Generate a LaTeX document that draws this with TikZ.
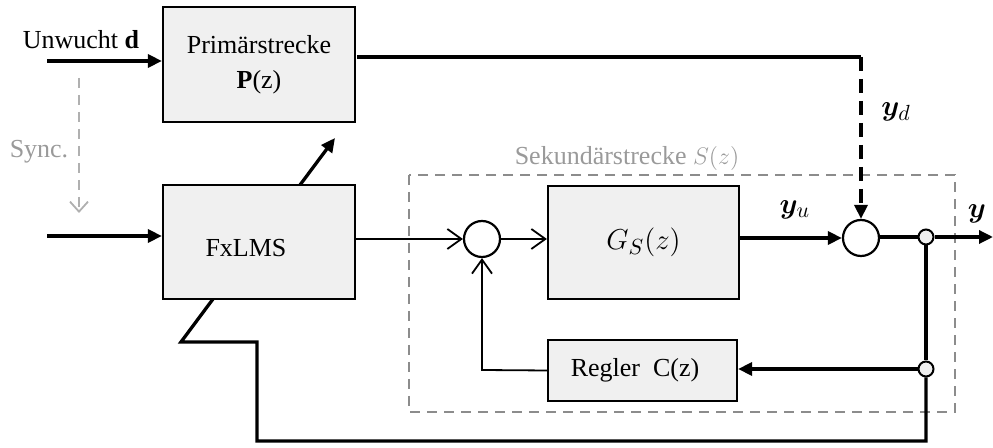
\documentclass[tikz,border=0pt]{standalone}
\usepackage{fontspec}
\usepackage{bm}
\setmainfont{Liberation Serif}
\usetikzlibrary{arrows.meta,positioning}
\definecolor{boxfill}{HTML}{F0F0F0}
\definecolor{grayline}{HTML}{8C8C8C}
\definecolor{graytext}{HTML}{9A9A9A}
\definecolor{synccol}{HTML}{B0B0B0}
\begin{document}
\begin{tikzpicture}[x=0.5pt,y=-0.5pt,
  font=\fontsize{13}{15.6}\selectfont,
  mathlbl/.style={font=\fontsize{15}{18}\selectfont},
  blockbox/.style={draw,line width=1.1pt,fill=boxfill,inner sep=0pt,align=center},
  sumnode/.style={draw,circle,line width=1.1pt,fill=white,minimum size=18pt,inner sep=0pt},
  junct/.style={draw,circle,line width=1pt,fill=boxfill,minimum size=7.5pt,inner sep=0pt},
  thickln/.style={line width=1.65pt},
  thinln/.style={line width=0.9pt},
  fatarrow/.style={thickln,-{Triangle[length=7pt,width=6.5pt]}},
  openarrow/.style={thinln,-{Straight Barb[length=7pt,width=10pt,line width=0.9pt]}}
]
\useasboundingbox (0,0) rectangle (993,448);

% secondary dashed frame
\draw[grayline,line width=0.9pt,dash pattern=on 5pt off 3.5pt] (409,175) rectangle (955,412);
\node[text=graytext] (seklabel) at (627,158) {Sekundärstrecke $S(z)$};

% blocks
\node[blockbox,minimum width=96pt,minimum height=57.5pt] (prim) at (259,64.5) {Primärstrecke\\[2pt]$\mathbf{P}$(z)};
\node[blockbox,minimum width=96pt,minimum height=57pt] (fx) at (259,242) {};
\node (fxtext) at (246,248) {FxLMS};
\node[blockbox,minimum width=95.5pt,minimum height=56.5pt,mathlbl] (gs) at (643.5,242.5) {$G_S(z)$};
\node[blockbox,minimum width=94.5pt,minimum height=30.5pt] (reg) at (642.5,370.5) {};
\node (regtext) at (635,370) {Regler~~C(z)};

\node[sumnode] (s1) at (482,239) {};
\node[sumnode] (s2) at (861,238) {};
\node[junct] (j1) at (926,237) {};
\node[junct] (j2) at (926,369) {};

% coordinates
\coordinate (in1) at (47,61);
\coordinate (in2) at (47,236);
\coordinate (sy1) at (79,78);
\coordinate (sy2) at (79,213);
\coordinate (dg1) at (300,185);
\coordinate (dg2) at (335,138);
\coordinate (pk) at (861,57);
\coordinate (po) at (357,57);
\coordinate (out) at (993,237);
\coordinate (b1) at (926,441);
\coordinate (b2) at (257,441);
\coordinate (b3) at (257,342);
\coordinate (b4) at (181,342);
\coordinate (b5) at (213,299);
\coordinate (rk) at (482,370);

% labels
\node (unw) at (81,40) {Unwucht $\mathbf{d}$};
\node[text=graytext] (sync) at (39,152) {Sync.};
\node[mathlbl] (yd) at (896,112) {$\bm{y}_d$};
\node[mathlbl] (yu) at (795,210) {$\bm{y}_u$};
\node[mathlbl] (yy) at (977,214) {$\bm{y}$};

% connectors
\draw[fatarrow] (in1) -- (in1 -| prim.west);
\draw[fatarrow] (in2) -- (in2 -| fx.west);
\draw[synccol,line width=0.9pt,dash pattern=on 5pt off 3.5pt,-{Straight Barb[length=5pt,width=9pt,line width=0.9pt]}] (sy1) -- (sy2);
\draw[fatarrow] (dg1) -- (dg2);
\draw[thickln] (po) -- (pk);
\draw[fatarrow,dash pattern=on 7pt off 4pt] (pk) -- (s2.north);
\draw[openarrow] (fx.east |- s1) -- (s1.west);
\draw[openarrow] (s1.east) -- (gs.west |- s1);
\draw[fatarrow] (gs.east |- s2) -- (s2.west);
\draw[thickln] (s2.east |- j1) -- (j1.west);
\draw[fatarrow] (j1.east) -- (out);
\draw[thickln] (j1.south) -- (j2.north);
\draw[thickln,line join=miter] (j2.south) -- (b1) -- (b2) -- (b3) -- (b4) -- (b5);
\draw[fatarrow] (j2.west) -- (reg.east |- j2);
\draw[openarrow] (reg.west) -- (rk) -- (s1.south);
\end{tikzpicture}
\end{document}
